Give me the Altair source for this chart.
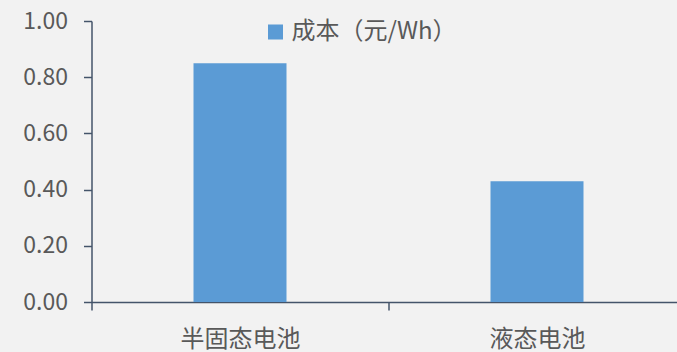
import altair as alt
import pandas as pd

categories = ["半固态电池", "液态电池"]
values = [0.85, 0.43]
series_name = "成本（元/Wh）"
y_ticks = [0.0, 0.2, 0.4, 0.6, 0.8, 1.0]

df = pd.DataFrame({"cat": categories, "val": values, "series": [series_name] * len(categories)})

FONT = "Noto Sans CJK SC"
AXIS_COLOR = "#44546A"
TEXT_COLOR = "#595959"

chart = alt.Chart(df).mark_bar(size=93).encode(
    x=alt.X("cat:N", sort=categories, title=None,
            scale=alt.Scale(range=[0, 594], paddingInner=0, paddingOuter=0),
            axis=alt.Axis(labelAngle=0, tickBand="extent", domainColor=AXIS_COLOR, tickColor=AXIS_COLOR,
                          domainWidth=1.5, tickWidth=1.5, tickSize=8, labelPadding=17,
                          labelFontSize=24, labelColor=TEXT_COLOR, labelFont=FONT, grid=False)),
    y=alt.Y("val:Q", title=None,
            scale=alt.Scale(domain=[0, 1], nice=False),
            axis=alt.Axis(values=y_ticks, format=".2f", domainColor=AXIS_COLOR, tickColor=AXIS_COLOR,
                          domainWidth=1.5, tickWidth=1.5, tickSize=8, labelPadding=16,
                          labelFontSize=23, labelColor=TEXT_COLOR, labelFont=FONT, grid=False)),
    color=alt.Color("series:N", title=None,
                    scale=alt.Scale(range=["#5B9BD5"]),
                    legend=alt.Legend(orient="none", legendX=172, legendY=-1, symbolType="square",
                                      symbolSize=225, symbolStrokeWidth=0, labelFontSize=24,
                                      labelLimit=400,
                                      labelColor=TEXT_COLOR, labelFont=FONT, padding=0, labelOffset=4)),
).properties(
    width=585.5, height=281,
    background="#F2F2F2",
    padding={"left": 91.5, "top": 21, "right": 0, "bottom": 50},
    autosize=alt.AutoSizeParams(type="none"),
).configure_view(stroke=None)

chart.save("out.html", embed_options={"renderer": "svg", "actions": False})
